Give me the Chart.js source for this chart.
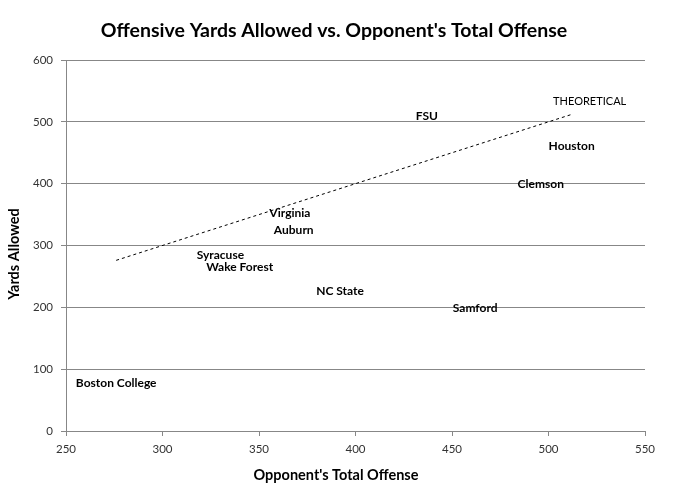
<!DOCTYPE html>
<html>
<head>
<meta charset="utf-8">
<script src="https://cdn.jsdelivr.net/npm/chart.js@4"></script>
<style>
  html, body { margin: 0; padding: 0; background: #fff; }
  #wrap { width: 680px; height: 501px; }
</style>
</head>
<body>
<div id="wrap"><canvas id="chart"></canvas></div>
<script>
const teams = ["FSU", "Houston", "Clemson", "Virginia", "Auburn", "Syracuse", "Wake Forest", "NC State", "Samford", "Boston College"];
const oppOffense = [437, 512, 496, 366, 368, 330, 340, 392, 462, 276];
const yardsAllowed = [510, 461, 400, 353, 325, 285, 265, 227, 199, 78];
const theoreticalX = [276, 512];
const xTicks = [250, 300, 350, 400, 450, 500, 550];
const yTicks = [0, 100, 200, 300, 400, 500, 600];

const FONT = "Lato, 'Open Sans', sans-serif";
const GRID = "#878787";

// labels sit on the points (no markers), plus the titles
const labelPlugin = {
  id: "labels",
  afterDatasetsDraw(chart) {
    const ctx = chart.ctx;
    const pts = chart.getDatasetMeta(0).data;
    ctx.save();
    ctx.fillStyle = "#000";
    ctx.textAlign = "center";
    ctx.textBaseline = "middle";
    ctx.font = "bold 12px " + FONT;
    pts.forEach((p, i) => ctx.fillText(teams[i], p.x, p.y));

    const line = chart.getDatasetMeta(1).data;
    const end = line[line.length - 1];
    ctx.font = "11px " + FONT;
    ctx.fillText("THEORETICAL", end.x + 18, end.y - 13);

    ctx.font = "bold 19.5px " + FONT;
    ctx.fillText("Offensive Yards Allowed vs. Opponent's Total Offense", 334, 31);

    ctx.font = "bold 14.5px " + FONT;
    ctx.fillText("Opponent's Total Offense", 336, 475);

    ctx.translate(14, 254);
    ctx.rotate(-Math.PI / 2);
    ctx.fillText("Yards Allowed", 0, 0);
    ctx.restore();
  }
};

new Chart(document.getElementById("chart"), {
  type: "scatter",
  data: {
    datasets: [
      {
        label: "Teams",
        data: teams.map((t, i) => ({ x: oppOffense[i], y: yardsAllowed[i] })),
        pointRadius: 0,
        pointHoverRadius: 0
      },
      {
        type: "line",
        label: "Theoretical",
        data: theoreticalX.map(v => ({ x: v, y: v })),
        borderColor: "#000",
        borderWidth: 1,
        borderDash: [3, 3],
        pointRadius: 0,
        fill: false
      }
    ]
  },
  options: {
    responsive: true,
    maintainAspectRatio: false,
    animation: false,
    layout: { padding: { top: 60, right: 35, bottom: 0, left: 0 } },
    plugins: {
      legend: { display: false },
      tooltip: { enabled: false }
    },
    scales: {
      x: {
        type: "linear",
        min: 250,
        max: 550,
        afterBuildTicks: axis => { axis.ticks = xTicks.map(v => ({ value: v })); },
        afterFit: axis => { axis.height = 70; },
        ticks: { color: "#333", font: { family: FONT, size: 11.5 }, padding: 6 },
        grid: { drawOnChartArea: false, drawTicks: true, tickLength: 5, color: GRID },
        border: { color: GRID }
      },
      y: {
        min: 0,
        max: 600,
        afterBuildTicks: axis => { axis.ticks = yTicks.map(v => ({ value: v })); },
        afterFit: axis => { axis.width = 66; },
        ticks: { color: "#333", font: { family: FONT, size: 11.5 }, padding: 8 },
        grid: { tickLength: 5, color: GRID },
        border: { color: GRID }
      }
    }
  },
  plugins: [labelPlugin]
});
</script>
</body>
</html>
